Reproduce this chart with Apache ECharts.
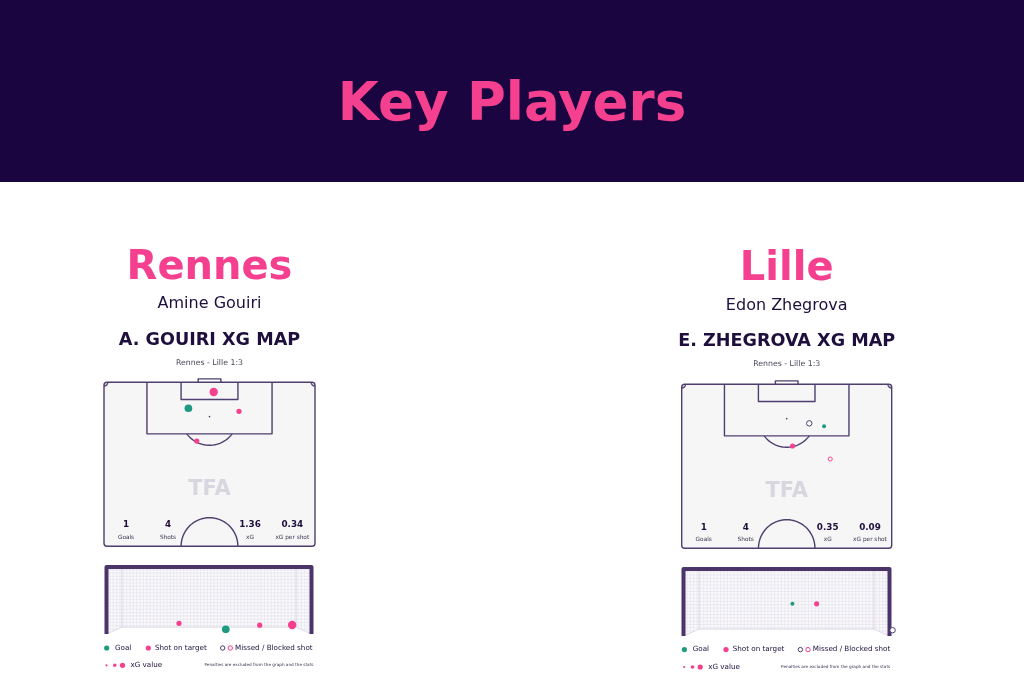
<!DOCTYPE html>
<html><head><meta charset="utf-8">
<script src="https://cdn.jsdelivr.net/npm/echarts@6/dist/echarts.min.js"></script>
<style>html,body{margin:0;padding:0;background:#fff}#c{width:1024px;height:683px}</style>
</head><body><div id="c"></div><script>
// ---------- DATA ----------
const headerTitle = 'Key Players';
const teamNames = ['Rennes', 'Lille'];
const playerNames = ['Amine Gouiri', 'Edon Zhegrova'];
const mapTitles = ['A. GOUIRI XG MAP', 'E. ZHEGROVA XG MAP'];
const matchLabel = 'Rennes - Lille 1:3';
const statLabels = ['Goals', 'Shots', 'xG', 'xG per shot'];
const gouiriStats = ['1', '4', '1.36', '0.34'];
const zhegrovaStats = ['1', '4', '0.35', '0.09'];

// Gouiri shots: pitch position (m across, m from goal line), xG, outcome, goal-mouth position (m from left post, m height)
const gouiriShotX = [35.35, 27.2, 43.5, 29.9];
const gouiriShotY = [3.1, 8.3, 9.3, 18.8];
const gouiriXg = [0.62, 0.48, 0.13, 0.13];
const gouiriOutcome = ['onTarget', 'goal', 'onTarget', 'onTarget'];
const gouiriMouthX = [6.63, 4.26, 2.59, 5.47];
const gouiriMouthY = [0.33, 0.17, 0.39, 0.32];

// Zhegrova shots
const zhegrovaShotX = [41.3, 46.1, 35.9, 48.1];
const zhegrovaShotY = [12.5, 13.4, 19.75, 23.9];
const zhegrovaXg = [0.15, 0.04, 0.12, 0.04];
const zhegrovaOutcome = ['missed', 'goal', 'onTarget', 'blocked'];
const zhegrovaMouthX = [7.43, 3.87, 4.73, null];
const zhegrovaMouthY = [0.21, 1.17, 1.17, null];

// ---------- STYLE ----------
const PINK = '#f4408e', TEAL = '#1e9a80', DARK = '#1e0f3c', LINE = '#4f3f6e', FRAME = '#4a3468';
const HEADER = '#1b0540', FONT = '"DejaVu Sans", sans-serif';

// pitch geometry (metres)
const PW = 68, PD = 52.5;

const chart = echarts.init(document.getElementById('c'));

function pitchRender(params, api) {
  const c = p => api.coord(p);
  const st = { stroke: LINE, lineWidth: 1.4, fill: null, lineJoin: 'round' };
  const ch = [];
  const a = c([0, 0]), b = c([PW, PD]);
  ch.push({ type: 'rect', shape: { x: a[0], y: a[1], width: b[0] - a[0], height: b[1] - a[1], r: 3 }, style: st });
  const poly = pts => ({ type: 'polyline', shape: { points: pts.map(c) }, style: st });
  ch.push(poly([[PW/2-20.16, 0], [PW/2-20.16, 16.5], [PW/2+20.16, 16.5], [PW/2+20.16, 0]]));
  ch.push(poly([[PW/2-9.16, 0], [PW/2-9.16, 5.5], [PW/2+9.16, 5.5], [PW/2+9.16, 0]]));
  ch.push(poly([[PW/2-3.66, 0], [PW/2-3.66, -1.1], [PW/2+3.66, -1.1], [PW/2+3.66, 0]]));
  const sp = c([PW/2, 11]);
  ch.push({ type: 'circle', shape: { cx: sp[0], cy: sp[1], r: 0.8 }, style: { fill: LINE } });
  const arc = (cx, cy, r, t0, t1) => {
    const pts = [];
    for (let i = 0; i <= 40; i++) { const t = (t0 + (t1 - t0) * i / 40) * Math.PI / 180; pts.push([cx + r * Math.cos(t), cy + r * Math.sin(t)]); }
    return poly(pts);
  };
  ch.push(arc(PW/2, 11, 9.15, 36.9, 143.1));
  ch.push(arc(PW/2, PD, 9.15, 180, 360));
  ch.push(arc(0, 0, 1.2, 0, 90));
  ch.push(arc(PW, 0, 1.2, 90, 180));
  return { type: 'group', children: ch };
}

function goalRender(params, api) {
  const c = p => api.coord(p);
  const ch = [];
  const GW = 7.32, GH = 2.44, sx = 0.55, sy = 0.25;
  const netStyle = { stroke: '#e3e0ea', lineWidth: 0.6 };
  ch.push({ type: 'polygon', shape: { points: [[0,0],[0,GH],[GW,GH],[GW,0],[GW-sx,sy],[sx,sy]].map(c) }, style: { fill: '#faf9fc' } });
  const bottom = x => sy * Math.min(1, x / sx, (GW - x) / sx);
  for (let x = 0.12; x < GW; x += 0.12) {
    const p = c([x, bottom(x)]), q = c([x, GH]);
    ch.push({ type: 'line', shape: { x1: p[0], y1: p[1], x2: q[0], y2: q[1] }, style: netStyle });
  }
  for (let y = 0.06; y < GH; y += 0.12) {
    if (y >= sy) {
      const p = c([0, y]), q = c([GW, y]);
      ch.push({ type: 'line', shape: { x1: p[0], y1: p[1], x2: q[0], y2: q[1] }, style: netStyle });
    } else {
      const w = sx * y / sy;
      let p = c([0, y]), q = c([w, y]);
      ch.push({ type: 'line', shape: { x1: p[0], y1: p[1], x2: q[0], y2: q[1] }, style: netStyle });
      p = c([GW - w, y]); q = c([GW, y]);
      ch.push({ type: 'line', shape: { x1: p[0], y1: p[1], x2: q[0], y2: q[1] }, style: netStyle });
    }
  }
  const edge = { stroke: '#d6d2df', lineWidth: 0.8, fill: null };
  ch.push({ type: 'polyline', shape: { points: [[0,0],[sx,sy],[GW-sx,sy],[GW,0]].map(c) }, style: edge });
  ch.push({ type: 'polyline', shape: { points: [[sx,sy],[sx,GH]].map(c) }, style: edge });
  ch.push({ type: 'polyline', shape: { points: [[GW-sx,sy],[GW-sx,GH]].map(c) }, style: edge });
  ch.push({ type: 'polyline', shape: { points: [[0,0],[0,GH],[GW,GH],[GW,0]].map(c) }, style: { stroke: FRAME, lineWidth: 4, fill: null, lineJoin: 'round', lineCap: 'butt' } });
  return { type: 'group', children: ch };
}

function shotStyle(outcome) {
  if (outcome === 'goal') return { color: TEAL, opacity: 1 };
  if (outcome === 'onTarget') return { color: PINK, opacity: 1 };
  if (outcome === 'missed') return { color: '#ffffff', borderColor: LINE, borderWidth: 1, opacity: 1 };
  return { color: '#ffffff', borderColor: PINK, borderWidth: 1, opacity: 1 };
}
const sizeOf = xg => 2.5 + 7.5 * Math.sqrt(xg);
function shotData(xs, ys, xg, outcome) {
  const out = [];
  for (let i = 0; i < xs.length; i++) {
    if (xs[i] == null) continue;
    out.push({ value: [xs[i], ys[i], xg[i]], symbolSize: sizeOf(xg[i]), itemStyle: shotStyle(outcome[i]) });
  }
  return out;
}

// layout of the two panels
const panels = [
  { cx: 209.5, pitch: { left: 104, top: 382.3, width: 211, height: 164 }, goal: { left: 106.5, top: 567, width: 205, height: 67 },
    teamY: 269, nameY: 303.5, titleY: 340.5, subY: 363, statY: 525, labY: 537, legY: 648, leg2Y: 665.3,
    stats: gouiriStats },
  { cx: 786.7, pitch: { left: 681.7, top: 384.3, width: 210, height: 164 }, goal: { left: 683.5, top: 569, width: 206, height: 67 },
    teamY: 270, nameY: 305.5, titleY: 341.2, subY: 364.3, statY: 528, labY: 539, legY: 649.6, leg2Y: 667,
    stats: zhegrovaStats }
];

const grids = [], xAxes = [], yAxes = [], series = [], graphics = [];
graphics.push({ type: 'rect', shape: { x: 0, y: 0, width: 1024, height: 182 }, style: { fill: HEADER }, z: 0 });
const T = (x, y, text, size, color, weight, align) => ({
  type: 'text', x, y, z: 10,
  style: { text, fill: color, font: (weight || 'normal') + ' ' + size + 'px ' + FONT, align: align || 'center', verticalAlign: 'middle' }
});
graphics.push(T(512, 106, headerTitle, 53, PINK, 'bold'));

const shotSets = [
  [gouiriShotX, gouiriShotY, gouiriXg, gouiriOutcome, gouiriMouthX, gouiriMouthY],
  [zhegrovaShotX, zhegrovaShotY, zhegrovaXg, zhegrovaOutcome, zhegrovaMouthX, zhegrovaMouthY]
];

panels.forEach((P, k) => {
  const gi = grids.length;
  grids.push({ ...P.pitch, show: true, backgroundColor: '#f6f6f7', borderWidth: 0 });
  xAxes.push({ gridIndex: gi, type: 'value', min: 0, max: PW, show: false });
  yAxes.push({ gridIndex: gi, type: 'value', min: 0, max: PD, inverse: true, show: false });
  grids.push({ ...P.goal, show: false });
  xAxes.push({ gridIndex: gi + 1, type: 'value', min: 0, max: 7.32, show: false });
  yAxes.push({ gridIndex: gi + 1, type: 'value', min: 0, max: 2.44, show: false });

  series.push({ type: 'custom', xAxisIndex: gi, yAxisIndex: gi, renderItem: pitchRender, data: [[0, 0]], z: 2, silent: true, clip: false });
  series.push({ type: 'custom', xAxisIndex: gi + 1, yAxisIndex: gi + 1, renderItem: goalRender, data: [[0, 0]], z: 2, silent: true, clip: false });
  const s = shotSets[k];
  series.push({ type: 'scatter', xAxisIndex: gi, yAxisIndex: gi, data: shotData(s[0], s[1], s[2], s[3]), z: 5, clip: false });
  series.push({ type: 'scatter', xAxisIndex: gi + 1, yAxisIndex: gi + 1, data: shotData(s[4], s[5], s[2], s[3]), z: 5, clip: false });

  // texts
  graphics.push(T(P.cx, P.teamY, teamNames[k], 40, PINK, 'bold'));
  graphics.push(T(P.cx, P.nameY, playerNames[k], 16, DARK));
  graphics.push(T(P.cx, P.titleY, mapTitles[k], 17.6, DARK, 'bold'));
  graphics.push(T(P.cx, P.subY, matchLabel, 7.8, '#4a4458'));
  graphics.push(T(P.cx, P.pitch.top + 107, 'TFA', 21, '#d8d6de', 'bold'));
  const sx = [22, 64, 146, 188.3];
  sx.forEach((dx, i) => {
    graphics.push(T(P.pitch.left + dx, P.statY, P.stats[i], 8.8, DARK, 'bold'));
    graphics.push(T(P.pitch.left + dx, P.labY, statLabels[i], 5.8, '#3b3350'));
  });
  // legend
  const L = P.pitch.left;
  const dot = (x, y, r, fill, stroke) => ({ type: 'circle', z: 10, shape: { cx: x, cy: y, r }, style: stroke ? { fill: '#fff', stroke, lineWidth: 1 } : { fill } });
  graphics.push(dot(L + 2.7, P.legY, 2.6, TEAL));
  graphics.push(T(L + 11, P.legY, 'Goal', 7.2, DARK, 'normal', 'left'));
  graphics.push(dot(L + 44.3, P.legY, 2.6, PINK));
  graphics.push(T(L + 51, P.legY, 'Shot on target', 7.2, DARK, 'normal', 'left'));
  graphics.push(dot(L + 118.7, P.legY, 2.2, null, LINE));
  graphics.push(dot(L + 126.3, P.legY, 2.2, null, PINK));
  graphics.push(T(L + 131, P.legY, 'Missed / Blocked shot', 7.2, DARK, 'normal', 'left'));
  graphics.push(dot(L + 2.5, P.leg2Y, 1.1, PINK));
  graphics.push(dot(L + 10.8, P.leg2Y, 1.8, PINK));
  graphics.push(dot(L + 18.5, P.leg2Y, 2.6, PINK));
  graphics.push(T(L + 26.5, P.leg2Y, 'xG value', 7.2, DARK, 'normal', 'left'));
  graphics.push(T(L + P.pitch.width - 1.5, P.leg2Y, 'Penalties are excluded from the graph and the stats', 4.2, '#3b3350', 'normal', 'right'));
});

chart.setOption({
  backgroundColor: '#ffffff',
  animation: false,
  grid: grids, xAxis: xAxes, yAxis: yAxes, series, graphic: graphics
});
</script></body></html>
